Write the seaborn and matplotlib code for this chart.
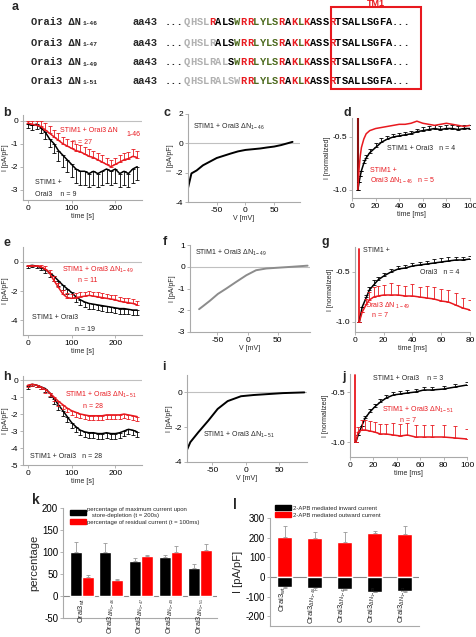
import numpy as np
import pandas as pd
import matplotlib
matplotlib.use("Agg")
import matplotlib.pyplot as plt
import seaborn as sns
from matplotlib.patches import Rectangle, Patch

sns.set_theme(style="ticks")
plt.rcParams['font.family'] = ['Liberation Sans', 'DejaVu Sans']
plt.rcParams['mathtext.fontset'] = 'custom'
plt.rcParams['mathtext.rm'] = 'Liberation Sans'
plt.rcParams['mathtext.it'] = 'Liberation Sans:italic'
plt.rcParams['axes.unicode_minus'] = False

RED = '#e8191f'
DKRED = '#8b1010'
GRAY = '#aaaaaa'
GREEN = '#4d6b1f'

# ---------------- data ----------------
seq = "QHSLRALSWRRLYLSRAKLKASSRTSALLSGFA"
seq_colors = "kkkkrkkkgrrggggrkrgrkkkrkkkkkkkkk"
row_subs = ["1-46", "1-47", "1-49", "1-51"]
row_gray = [4, 5, 7, 9]

b_t = list(range(0, 251, 10))
b_wt = [-0.15, -0.2, -0.15, -0.3, -0.5, -0.8, -1.0, -1.3, -1.5, -1.7, -1.9, -2.1, -2.2,
        -2.2, -2.3, -2.2, -2.3, -2.2, -2.1, -2.2, -2.1, -2.3, -2.2, -2.3, -2.1, -2.0]
b_wt_err = [0.15, 0.2, 0.2, 0.25, 0.3, 0.35, 0.4, 0.45, 0.5, 0.55, 0.55, 0.6, 0.6,
            0.6, 0.6, 0.6, 0.6, 0.6, 0.6, 0.6, 0.6, 0.6, 0.6, 0.6, 0.6, 0.6]
b_d46 = [-0.1, -0.15, -0.2, -0.25, -0.4, -0.55, -0.7, -0.85, -1.0, -1.1, -1.2, -1.3, -1.35,
         -1.45, -1.55, -1.6, -1.7, -1.8, -1.9, -2.0, -1.9, -1.8, -1.7, -1.65, -1.55, -1.6]
b_d46_err = [0.1, 0.15, 0.2, 0.25, 0.3, 0.3, 0.3, 0.3, 0.3, 0.3, 0.3, 0.3, 0.3,
             0.3, 0.3, 0.3, 0.3, 0.3, 0.3, 0.3, 0.3, 0.3, 0.3, 0.3, 0.3, 0.3]

c_v = [-100, -94, -85, -74, -62, -50, -38, -26, -13, 0, 13, 26, 38, 50, 62, 73, 82]
c_i = [-3.05, -2.05, -1.85, -1.5, -1.25, -1.0, -0.85, -0.7, -0.55, -0.45, -0.4, -0.35,
       -0.28, -0.22, -0.12, 0.0, 0.1]

d_spike_t = [5, 5]
d_spike_i = [-1.0, -0.32]
d_t = [5, 6, 7, 8, 10, 12, 15, 20, 25, 30, 35, 40, 45, 50, 55, 60, 65, 70, 75, 80, 85, 90, 95, 100]
d_wt = [-1.0, -0.93, -0.87, -0.82, -0.75, -0.7, -0.65, -0.6, -0.55, -0.52, -0.5, -0.49,
        -0.48, -0.47, -0.45, -0.44, -0.43, -0.42, -0.43, -0.42, -0.42, -0.43, -0.42, -0.42]
d_wt_err = [0.0, 0.0, 0.0, 0.0, 0.03, 0.03, 0.04, 0.04, 0.04, 0.03, 0.03, 0.03,
            0.03, 0.03, 0.03, 0.03, 0.03, 0.03, 0.03, 0.03, 0.03, 0.03, 0.03, 0.03]
d_d46 = [-1.0, -0.8, -0.68, -0.6, -0.52, -0.47, -0.44, -0.42, -0.41, -0.4, -0.39, -0.38,
         -0.38, -0.37, -0.35, -0.37, -0.38, -0.39, -0.38, -0.37, -0.38, -0.39, -0.4, -0.39]

e_t = list(range(0, 251, 10))
e_wt = [-0.3, -0.25, -0.3, -0.4, -0.55, -0.75, -1.0, -1.3, -1.6, -1.85, -2.1, -2.4, -2.6,
        -2.75, -2.85, -2.9, -2.95, -3.0, -3.05, -3.1, -3.15, -3.2, -3.2, -3.25, -3.3, -3.3]
e_wt_err = [0.1, 0.1, 0.15, 0.2, 0.25, 0.3, 0.35, 0.35, 0.35, 0.35, 0.35, 0.35, 0.35,
            0.35, 0.35, 0.35, 0.35, 0.35, 0.35, 0.35, 0.35, 0.35, 0.35, 0.35, 0.35, 0.35]
e_d49 = [-0.3, -0.3, -0.3, -0.35, -0.5, -0.8, -1.3, -1.75, -2.2, -2.45, -2.5, -2.45, -2.4,
         -2.35, -2.3, -2.35, -2.4, -2.45, -2.5, -2.55, -2.6, -2.7, -2.75, -2.8, -2.85, -2.95]
e_d49_err = [0.1, 0.1, 0.1, 0.15, 0.2, 0.25, 0.3, 0.3, 0.3, 0.3, 0.3, 0.3, 0.3,
             0.3, 0.3, 0.3, 0.3, 0.3, 0.3, 0.3, 0.3, 0.3, 0.3, 0.3, 0.3, 0.3]

f_v = [-80, -73, -62, -49, -35, -19, -2, 14, 31, 47, 74, 99]
f_i = [-1.95, -1.8, -1.56, -1.25, -1.0, -0.7, -0.39, -0.16, -0.08, -0.05, 0.0, 0.05]

g_spike_t = [3, 3]
g_spike_i = [-1.0, -0.27]
g_t = [3, 5, 8, 10, 13, 16, 20, 25, 30, 35, 40, 45, 50, 55, 60, 65, 70, 75, 80]
g_wt = [-1.0, -0.85, -0.75, -0.68, -0.63, -0.58, -0.54, -0.5, -0.47, -0.46, -0.44, -0.43,
        -0.42, -0.41, -0.4, -0.39, -0.38, -0.38, -0.37]
g_wt_err = [0.0, 0.0, 0.02, 0.03, 0.05, 0.03, 0.03, 0.03, 0.03, 0.03, 0.03, 0.03,
            0.03, 0.04, 0.04, 0.04, 0.03, 0.03, 0.03]
g_d49 = [-1.0, -0.9, -0.82, -0.78, -0.75, -0.74, -0.73, -0.73, -0.73, -0.74, -0.74, -0.75,
         -0.76, -0.77, -0.79, -0.8, -0.83, -0.86, -0.88]
g_d49_err = [0.0, 0.0, 0.05, 0.08, 0.1, 0.1, 0.1, 0.12, 0.1, 0.1, 0.12, 0.1,
             0.12, 0.12, 0.12, 0.12, 0.12, 0.1, 0.1]

h_t = list(range(0, 251, 10))
h_wt = [-0.35, -0.25, -0.3, -0.4, -0.5, -0.75, -1.1, -1.45, -1.8, -2.15, -2.5, -2.75, -2.95,
        -3.05, -3.1, -3.1, -3.15, -3.15, -3.1, -3.15, -3.15, -3.1, -3.0, -2.9, -2.95, -3.05]
h_wt_err = [0.15, 0.1, 0.1, 0.15, 0.2, 0.25, 0.3, 0.3, 0.3, 0.3, 0.3, 0.3, 0.3,
            0.3, 0.3, 0.3, 0.3, 0.3, 0.3, 0.3, 0.3, 0.3, 0.3, 0.3, 0.3, 0.3]
h_d51 = [-0.3, -0.25, -0.3, -0.4, -0.55, -0.75, -1.0, -1.25, -1.45, -1.65, -1.8, -1.9, -2.0,
         -2.05, -2.1, -2.1, -2.1, -2.1, -2.05, -2.05, -2.05, -2.05, -2.0, -2.05, -2.1, -2.15]
h_d51_err = [0.1, 0.1, 0.1, 0.15, 0.2, 0.2, 0.25, 0.25, 0.25, 0.25, 0.25, 0.25, 0.25,
             0.25, 0.25, 0.25, 0.25, 0.25, 0.25, 0.25, 0.25, 0.25, 0.25, 0.25, 0.25, 0.25]

i_v = [-88, -83, -71, -56, -42, -27, -7, 12, 32, 56, 88]
i_i = [-3.3, -2.86, -2.29, -1.62, -0.95, -0.5, -0.22, -0.15, -0.1, -0.04, 0.0]

j_spike_t = [4.5, 4.5]
j_spike_i = [-1.0, -0.33]
j_t = [5, 7, 10, 13, 17, 21, 26, 31, 37, 43, 49, 56, 63, 70, 80, 90, 100]
j_wt = [-1.0, -0.93, -0.84, -0.76, -0.7, -0.65, -0.6, -0.56, -0.53, -0.52, -0.51, -0.5,
        -0.48, -0.48, -0.47, -0.45, -0.43]
j_wt_err = [0.0, 0.0, 0.0, 0.02, 0.03, 0.03, 0.03, 0.03, 0.03, 0.03, 0.03, 0.03,
            0.03, 0.03, 0.03, 0.03, 0.03]
j_d51 = [-1.0, -0.9, -0.88, -0.88, -0.89, -0.9, -0.92, -0.92, -0.93, -0.94, -0.93, -0.95,
         -0.95, -0.95, -0.95, -0.96, -0.97]
j_d51_err = [0.0, 0.05, 0.1, 0.1, 0.1, 0.1, 0.1, 0.1, 0.12, 0.12, 0.12, 0.12,
             0.12, 0.12, 0.12, 0.12, 0.1]

k_constructs = ["wt", "1-46", "1-47", "1-49", "1-51"]
k_max = [100, 100, 80, 89, 63]
k_max_err = [22, 20, 6, 5, 9]
k_res = [43, 36, 91, 100, 104]
k_res_err = [5, 3, 3, 14, 14]

l_out = [205, 200, 180, 225, 220]
l_out_err = [55, 30, 50, 10, 40]
l_in = [-50, -55, -60, -75, -70]
l_in_err = [8, 12, 8, 4, 8]

# ---------------- figure ----------------
W, H = 477, 637
fig = plt.figure(figsize=(W / 100, H / 100), dpi=100)
fig.patch.set_facecolor('white')


def px_axes(l, t, r, b):
    return fig.add_axes([l / W, 1 - b / H, (r - l) / W, (b - t) / H])


def ftext(x, y, s, **kw):
    kw.setdefault('ha', 'left')
    kw.setdefault('va', 'center')
    fig.text(x / W, 1 - y / H, s, **kw)


def style(ax, xlim, ylim, xticks, yticks, xlabel, ylabel, zero=True, fmt=None):
    ax.set_xlim(xlim)
    ax.set_ylim(ylim)
    ax.set_xticks(xticks)
    ax.set_yticks(yticks)
    if fmt:
        ax.set_yticklabels([fmt.format(v) for v in yticks])
    for s in ['top', 'right']:
        ax.spines[s].set_visible(False)
    for s in ['left', 'bottom']:
        ax.spines[s].set_color(GRAY)
        ax.spines[s].set_linewidth(0.8)
    ax.tick_params(colors=GRAY, labelcolor='black', labelsize=6, length=2, width=0.6, pad=1.5)
    ax.set_xlabel(xlabel, fontsize=5, labelpad=1)
    ax.set_ylabel(ylabel, fontsize=5, labelpad=1)
    ax.set_facecolor('none')
    if zero:
        ax.axhline(0, color='#c0c0c0', lw=0.8, zorder=0)


def trace(ax, x, y, color, lw=1.1):
    sns.lineplot(x=x, y=y, ax=ax, color=color, lw=lw, estimator=None, sort=False)


def errs(ax, x, y, err, color, up=True):
    e = np.asarray(err, dtype=float)
    z = np.zeros_like(e)
    ax.errorbar(x, y, yerr=[z, e] if up else [e, z], fmt='none', ecolor=color,
                elinewidth=0.6, capsize=1.2, capthick=0.6)


# ---------------- panel a ----------------
ftext(12, 7, "a", fontsize=9, fontweight='bold')
mono = dict(family='Liberation Mono', fontweight='bold', fontsize=7.5)
rows_y = [21.7, 42.7, 62.3, 81]
cw = 6.3
for ry, sub, ng in zip(rows_y, row_subs, row_gray):
    ftext(31, ry, "Orai3 ΔN", **mono)
    ftext(83, ry + 2, sub, family='Liberation Mono', fontweight='bold', fontsize=4.5)
    ftext(133, ry, "aa43", **mono)
    ftext(165, ry, "...", **mono)
    for i, (ch, cc) in enumerate(zip(seq, seq_colors)):
        if i < ng:
            col = '#b0b0b0'
        else:
            col = {'k': 'black', 'r': RED, 'g': GREEN}[cc]
        ftext(184 + i * cw, ry, ch, color=col, **mono)
    ftext(184 + len(seq) * cw, ry, "...", **mono)
fig.patches.append(Rectangle((331 / W, 1 - 89 / H), 90 / W, 82 / H, transform=fig.transFigure,
                             fill=False, ec=RED, lw=1.5))
ftext(376, 4, "TM1", color=RED, fontsize=6.5, fontweight='bold', ha='center')

# ---------------- panel b ----------------
ax = px_axes(23, 115, 142, 200)
errs(ax, b_t, b_wt, b_wt_err, 'black', up=False)
trace(ax, b_t, b_wt, 'black')
errs(ax, b_t, b_d46, b_d46_err, RED, up=True)
trace(ax, b_t, b_d46, RED)
style(ax, (-11, 261), (-3.45, 0.25), [0, 100, 200], [0, -1, -2, -3], "time [s]", "I [pA/pF]")
ftext(3, 113, "b", fontsize=9, fontweight='bold')
ftext(60, 130, "STIM1 + Orai3 ΔN", color=RED, fontsize=5)
ftext(126, 135, "1-46", color=RED, fontsize=5)
ftext(72, 142, "n = 27", color=RED, fontsize=5)
ftext(35, 183, "STIM1 +", fontsize=5)
ftext(35, 194, "Orai3    n = 9", fontsize=5)

# ---------------- panel c ----------------
ax = px_axes(188, 114, 300, 202)
trace(ax, c_v, c_i, 'black', lw=1.4)
style(ax, (-100, 95), (-4, 2), [-50, 0, 50], [2, 0, -2, -4], "V [mV]", "I [pA/pF]")
ftext(163, 113, "c", fontsize=9, fontweight='bold')
ftext(193, 127, "STIM1 + Orai3 ΔN$_{\\mathregular{1-46}}$", fontsize=5)

# ---------------- panel d ----------------
ax = px_axes(352, 118, 470, 198)
trace(ax, d_spike_t, d_spike_i, DKRED, lw=1.5)
errs(ax, d_t, d_wt, d_wt_err, 'black')
trace(ax, d_t, d_wt, 'black')
trace(ax, d_t, d_d46, RED)
style(ax, (0, 100), (-1.08, -0.32), list(range(0, 101, 20)), [-0.5, -1.0],
      "time [ms]", "I [normalized]", zero=False, fmt="{:.1f}")
ftext(344, 113, "d", fontsize=9, fontweight='bold')
ftext(387, 148, "STIM1 + Orai3   n = 4", fontsize=5)
ftext(370, 170, "STIM1 +", color=RED, fontsize=5)
ftext(370, 181, "Orai3 ΔN$_{\\mathregular{1-46}}$   n = 5", color=RED, fontsize=5)

# ---------------- panel e ----------------
ax = px_axes(23, 247, 142, 335)
errs(ax, e_t, e_wt, e_wt_err, 'black', up=False)
trace(ax, e_t, e_wt, 'black')
errs(ax, e_t, e_d49, e_d49_err, RED, up=True)
trace(ax, e_t, e_d49, RED)
style(ax, (-11, 261), (-5, 1), [0, 100, 200], [0, -2, -4], "time [s]", "I [pA/pF]")
ftext(3, 243, "e", fontsize=9, fontweight='bold')
ftext(62, 270, "STIM1 + Orai3 ΔN$_{\\mathregular{1-49}}$", color=RED, fontsize=5)
ftext(78, 281, "n = 11", color=RED, fontsize=5)
ftext(32, 318, "STIM1 + Orai3", fontsize=5)
ftext(75, 329, "n = 19", fontsize=5)

# ---------------- panel f ----------------
ax = px_axes(190, 245, 310, 332)
trace(ax, f_v, f_i, '#8c8c8c', lw=1.4)
style(ax, (-95, 103), (-3, 1), [-50, 0, 50], [1, 0, -1, -2, -3], "V [mV]", "I [pA/pF]")
ftext(163, 242, "f", fontsize=9, fontweight='bold')
ftext(195, 253, "STIM1 + Orai3 ΔN$_{\\mathregular{1-49}}$", fontsize=5)

# ---------------- panel g ----------------
ax = px_axes(355, 247, 470, 332)
trace(ax, g_spike_t, g_spike_i, RED, lw=1.3)
errs(ax, g_t, g_wt, g_wt_err, 'black')
trace(ax, g_t, g_wt, 'black')
errs(ax, g_t, g_d49, g_d49_err, RED)
trace(ax, g_t, g_d49, RED)
style(ax, (0, 80), (-1.1, -0.25), list(range(0, 81, 20)), [-0.5, -1.0],
      "time [ms]", "I [normalized]", zero=False, fmt="{:.1f}")
ftext(322, 242, "g", fontsize=9, fontweight='bold')
ftext(363, 250, "STIM1 +", fontsize=5)
ftext(420, 272, "Orai3   n = 4", fontsize=5)
ftext(365, 306, "Orai3 ΔN $_{\\mathregular{1-49}}$", color=RED, fontsize=5)
ftext(372, 316, "n = 7", color=RED, fontsize=5)

# ---------------- panel h ----------------
ax = px_axes(23, 376, 142, 465)
errs(ax, h_t, h_wt, h_wt_err, 'black', up=False)
trace(ax, h_t, h_wt, 'black')
errs(ax, h_t, h_d51, h_d51_err, RED, up=False)
trace(ax, h_t, h_d51, RED)
style(ax, (-11, 261), (-5, 0.24), [0, 100, 200], [0, -1, -2, -3, -4, -5], "time [s]", "I [pA/pF]")
ftext(3, 377, "h", fontsize=9, fontweight='bold')
ftext(65, 395, "STIM1 + Orai3 ΔN$_{\\mathregular{1-51}}$", color=RED, fontsize=5)
ftext(83, 406, "n = 28", color=RED, fontsize=5)
ftext(30, 456, "STIM1 + Orai3   n = 28", fontsize=5)

# ---------------- panel i ----------------
ax = px_axes(187, 375, 307, 462)
trace(ax, i_v, i_i, 'black', lw=1.4)
style(ax, (-88, 92), (-4, 1), [-50, 0, 50], [0, -2, -4], "V [mV]", "I [pA/pF]")
ftext(162, 367, "i", fontsize=9, fontweight='bold')
ftext(203, 435, "STIM1 + Orai3 ΔN$_{\\mathregular{1-51}}$", fontsize=5)

# ---------------- panel j ----------------
ax = px_axes(350, 374, 467, 457)
trace(ax, j_spike_t, j_spike_i, RED, lw=1.3)
errs(ax, j_t, j_wt, j_wt_err, 'black')
trace(ax, j_t, j_wt, 'black')
errs(ax, j_t, j_d51, j_d51_err, RED)
trace(ax, j_t, j_d51, RED)
style(ax, (0, 100), (-1.15, -0.32), list(range(0, 101, 20)), [-0.5, -1.0],
      "time [ms]", "I [normalized]", zero=False, fmt="{:.1f}")
ftext(342, 377, "j", fontsize=9, fontweight='bold')
ftext(373, 378, "STIM1 + Orai3    n = 3", fontsize=5)
ftext(382, 410, "STIM1 + Orai3 ΔN$_{\\mathregular{1-51}}$", color=RED, fontsize=5)
ftext(400, 420, "n = 7", color=RED, fontsize=5)

# ---------------- tick label texts for k & l ----------------
def construct_label(c):
    if c == "wt":
        return "Orai3$_{\\mathregular{wt}}$"
    return "Orai3$_{\\Delta\\mathregular{N}_{\\mathregular{" + c + "}}}$"


def bar_style(ax, ylim, yticks, xlim, ylabel):
    ax.set_ylim(ylim)
    ax.set_yticks(yticks)
    ax.set_xlim(xlim)
    ax.set_xticks([])
    ax.set_xlabel("")
    ax.set_ylabel(ylabel, fontsize=8, labelpad=2)
    for s in ['top', 'right']:
        ax.spines[s].set_visible(False)
    for s in ['left', 'bottom']:
        ax.spines[s].set_color(GRAY)
        ax.spines[s].set_linewidth(0.8)
    ax.tick_params(axis='y', colors=GRAY, labelcolor='black', labelsize=7, length=2, width=0.6, pad=1.5)
    ax.axhline(0, color='#888888', lw=0.8, zorder=0)
    ax.set_facecolor('none')


# ---------------- panel k ----------------
ax = px_axes(63, 508, 217, 618)
k_df = pd.DataFrame({
    "construct": k_constructs * 2,
    "value": k_max + k_res,
    "series": ["max"] * 5 + ["res"] * 5,
})
sns.barplot(data=k_df, x="construct", y="value", hue="series", palette=['black', '#ff0000'],
            width=0.8, errorbar=None, saturation=1, ax=ax, legend=False)
for cont, vals, er in zip(ax.containers, [k_max, k_res], [k_max_err, k_res_err]):
    xs = [p.get_x() + p.get_width() / 2 for p in cont]
    ax.errorbar(xs, vals, yerr=[np.zeros(5), er], fmt='none', ecolor='#999999',
                elinewidth=0.6, capsize=1.5, capthick=0.6)
bar_style(ax, (-50, 200), [-50, 0, 50, 100, 150, 200], (-0.63, 4.57), "percentage")
for i, c in enumerate(k_constructs):
    ax.text(i, -4, construct_label(c), rotation=90, ha='center', va='top', fontsize=5.3)
ax.legend(handles=[Patch(color='black'), Patch(color='#ff0000')],
          labels=["percentage of maximum current upon\n   store-depletion (t = 200s)",
                  "percentage of residual current (t = 100ms)"],
          loc='upper left', bbox_to_anchor=(0.03, 1.03), fontsize=4.3, frameon=False,
          handlelength=2.6, handleheight=1.0, handletextpad=0.2, labelspacing=0.2,
          borderaxespad=0)
ftext(32, 500, "k", fontsize=10, fontweight='bold')

# ---------------- panel l ----------------
ax = px_axes(270, 518, 419, 626)
sns.barplot(x=k_constructs, y=l_out, color='#ff0000', width=0.5, errorbar=None,
            saturation=1, ax=ax)
sns.barplot(x=k_constructs, y=l_in, color='black', width=0.5, errorbar=None,
            saturation=1, ax=ax)
xs = [p.get_x() + p.get_width() / 2 for p in ax.containers[0]]
ax.errorbar(xs, l_out, yerr=[np.zeros(5), l_out_err], fmt='none', ecolor='#999999',
            elinewidth=0.6, capsize=1.5, capthick=0.6)
ax.errorbar(xs, l_in, yerr=[l_in_err, np.zeros(5)], fmt='none', ecolor='#999999',
            elinewidth=0.6, capsize=1.5, capthick=0.6)
bar_style(ax, (-250, 300), [-200, -100, 0, 100, 200, 300], (-0.5, 4.47), "I [pA/pF]")
for i, c in enumerate(k_constructs):
    ax.text(i - 0.08, -45, construct_label(c), rotation=90, ha='center', va='top', fontsize=5.5)
ax.legend(handles=[Patch(color='black'), Patch(color='#ff0000')],
          labels=["2-APB mediated inward current", "2-APB mediated outward current"],
          loc='lower left', bbox_to_anchor=(0.02, 0.98), fontsize=4.3, frameon=False,
          handlelength=2.6, handleheight=1.0, handletextpad=0.4, labelspacing=0.2,
          borderaxespad=0)
ftext(233, 505, "l", fontsize=10, fontweight='bold')

fig.savefig("out.png", dpi=100)
